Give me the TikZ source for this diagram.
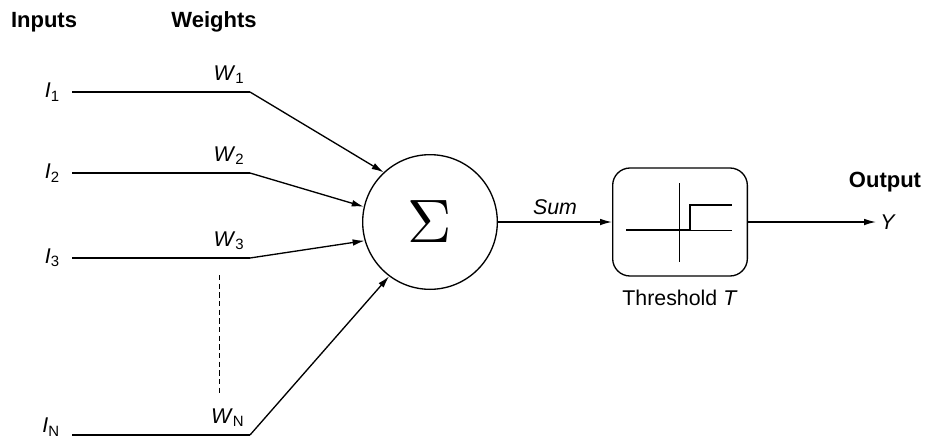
\documentclass[tikz,border=0pt]{standalone}
\usepackage{fontspec}
\setmainfont{Liberation Sans}
\usetikzlibrary{arrows.meta, positioning, calc}

\begin{document}
\begin{tikzpicture}[
    x=0.75pt, y=-0.75pt,
    wire/.style={line width=1.3pt},
    link/.style={line width=1pt, -{Latex[length=9pt, width=5pt]}},
    heading/.style={font=\fontsize{16.5}{19}\selectfont\bfseries},
    lbl/.style={font=\fontsize{16}{19}\selectfont, inner sep=1pt},
    summer/.style={draw, circle, line width=1pt, minimum size=101pt, inner sep=0pt},
    thbox/.style={draw, line width=1pt, rounded corners=13pt,
                  minimum width=101pt, minimum height=81pt},
    axis/.style={line width=0.7pt},
    stepline/.style={line width=1.5pt},
]
\useasboundingbox (0,0) rectangle (925,443);

% ===================== HEADINGS =====================
\node[heading] (hin) at (44,22) {Inputs};
\node[heading] (hw) at (214,22) {Weights};

% ===================== SUMMER AND THRESHOLD =====================
\node[summer] (sigma) at (430,222) {\scalebox{4.6}{$\Sigma$}};
\node[thbox] (thr) at (680,222) {};
\node[lbl, below=9pt of thr] (thlab) {Threshold \textit{T}};

% Step function inside the threshold box
\draw[axis] (626,230) -- (732,230);
\draw[axis] (679,183) -- (679,262);
\draw[stepline] (626,230) -- (690,230) -- (690,205) -- (732,205);

% ===================== INPUTS AND WEIGHTS =====================
\foreach \k/\y/\a/\s in {1/92/133/0, 2/173/167/0, 3/258/196/0, N/435/233/6} {
    \coordinate (a\k) at (72,\y);
    \coordinate (b\k) at (250,\y);
    \node[lbl, left=8pt of a\k, yshift=\s] (i\k) {\textit{I}\textsubscript{\k}};
    \node[lbl, above left=5pt and 3pt of b\k] (w\k) {\textit{W}\textsubscript{\k}};
    \draw[wire] (a\k) -- (b\k);
    \draw[link] (b\k) -- (sigma.\a);
}

% dotted gap between W3 and WN
\coordinate (d1) at (219,275);
\coordinate (d2) at (219,395);
\draw[thin, dash pattern=on 4pt off 2.5pt] (d1) -- (d2);

% ===================== SUM AND OUTPUT =====================
\draw[link] (sigma.east) -- node[lbl, above=4pt] (sumlab) {\textit{Sum}} (thr.west);

\coordinate (yout) at (876,222);
\draw[link] (thr.east) -- (yout);
\node[lbl, right=2pt of yout] (ylab) {\textit{Y}};
\node[heading] (hout) at (885,182) {Output};

\end{tikzpicture}
\end{document}
